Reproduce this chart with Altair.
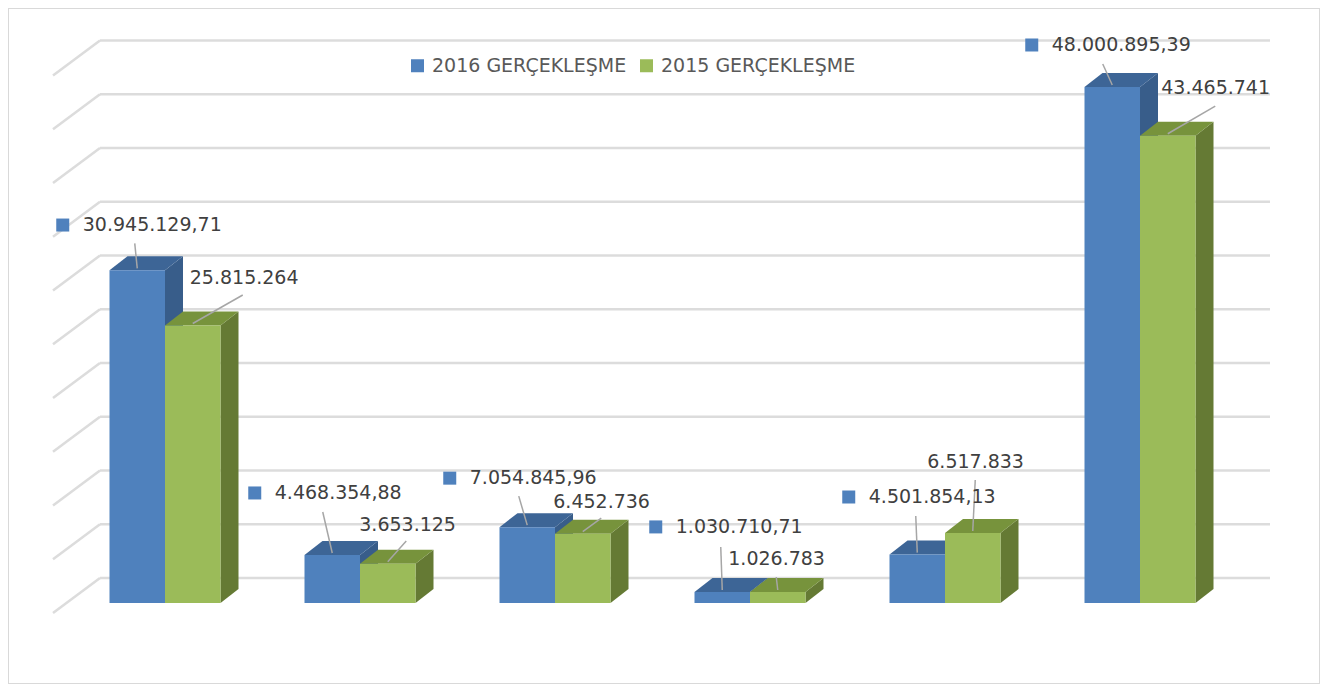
import altair as alt
import pandas as pd

# ---------------- data ----------------
CATEGORIES = ["Kalem 1", "Kalem 2", "Kalem 3", "Kalem 4", "Kalem 5", "Kalem 6"]
SERIES = ["2016 GERÇEKLEŞME", "2015 GERÇEKLEŞME"]
VALUES_2016 = [30945129.71, 4468354.88, 7054845.96, 1030710.71, 4501854.13, 48000895.39]
VALUES_2015 = [25815264, 3653125, 6452736, 1026783, 6517833, 43465741]
GRID_TICKS = [0, 5e6, 10e6, 15e6, 20e6, 25e6, 30e6, 35e6, 40e6, 45e6, 50e6]

# ---------------- layout / style ----------------
BLUE, BLUE_TOP, BLUE_SIDE = "#4F81BD", "#3D6596", "#385D8A"
GREEN, GREEN_TOP, GREEN_SIDE = "#9BBB59", "#77933C", "#657A34"
GRID = "#DCDCDC"
FONT = "DejaVu Sans"

STEP_PX = 195.0                 # pixels between group centres
PX_Y = 537.5 / 50e6             # pixels per value unit
HALF_W = 55.5 / STEP_PX         # bar width in group units
DEPTH_X = 18 / STEP_PX
DEPTH_Y = 14 / PX_Y
WALL_Y = 25 / PX_Y
WALL_X0 = -65 / STEP_PX
WALL_X1 = 1105 / STEP_PX
WALL_DX = -47 / STEP_PX
WALL_DY = -35 / PX_Y

# label offsets in pixels from the bar's front-top centre (Excel labels moved by hand)
LBL_DX = {SERIES[0]: [-54.5, -57.5, -57.5, -46.5, -48.5, -60.5],
          SERIES[1]: [-3, -28.5, -29.5, -49.5, -45.5, -6.5]}
LBL_DY = {SERIES[0]: [-45.3, -62, -49, -65, -57.6, -42],
          SERIES[1]: [-47.5, -38.7, -31.6, -33, -70.9, -47.7]}
LDR_DX = {SERIES[0]: [-2.5, -9.5, -8.5, -1.5, -1.5, -9.5],
          SERIES[1]: [50, 18.5, 18.5, -1.5, 2.5, 47.5]}
LDR_DY = {SERIES[0]: [-27, -43, -31, -45, -38.6, -23],
          SERIES[1]: [-30.5, -22.7, -15.6, -15, -52.9, -29.7]}


def tr_format(v, decimals):
    s = f"{v:,.{decimals}f}"
    return s.replace(",", "X").replace(".", ",").replace("X", ".")


front, tops, sides, labels, leaders = [], [], [], [], []
for s_idx, (series, vals) in enumerate(zip(SERIES, [VALUES_2016, VALUES_2015])):
    for i, (cat, v) in enumerate(zip(CATEGORIES, vals)):
        x0 = i - HALF_W if s_idx == 0 else i
        x1 = x0 + HALF_W
        bid = f"{series}-{i}"
        front.append({"series": series, "category": cat, "x0": x0, "x1": x1, "v": v, "base": 0})
        tops.append({"id": bid, "series": series, "y": v, "x": x0, "x2": x1})
        tops.append({"id": bid, "series": series, "y": v + DEPTH_Y, "x": x0 + DEPTH_X, "x2": x1 + DEPTH_X})
        sides.append({"id": bid, "series": series, "x": x1, "y": v, "y2": 0})
        sides.append({"id": bid, "series": series, "x": x1 + DEPTH_X, "y": v + DEPTH_Y, "y2": DEPTH_Y})
        cx = (x0 + x1) / 2
        labels.append({"series": series,
                       "lx": cx + LBL_DX[series][i] / STEP_PX,
                       "ly": v - LBL_DY[series][i] / PX_Y,
                       "label": tr_format(v, 2 if s_idx == 0 else 0)})
        leaders.append({"series": series,
                        "sx": cx + LDR_DX[series][i] / STEP_PX,
                        "sy": v - LDR_DY[series][i] / PX_Y,
                        "ex": cx, "ey": v + 2 / PX_Y})

front_df = pd.DataFrame(front)
tops_df = pd.DataFrame(tops)
sides_df = pd.DataFrame(sides)
labels_df = pd.DataFrame(labels)
leaders_df = pd.DataFrame(leaders)
grid_df = pd.DataFrame({"gy": [t + WALL_Y for t in GRID_TICKS]})
grid_df["gx0"] = WALL_X0
grid_df["gx1"] = WALL_X1
grid_df["dx2"] = WALL_X0 + WALL_DX
grid_df["dy2"] = grid_df["gy"] + WALL_DY

xs = alt.Scale(domain=[0, 5], range=[157, 1132], nice=False, zero=False)
ys = alt.Scale(domain=[0, 50e6], range=[595, 57.5], nice=False, zero=False)

grid_h = alt.Chart(grid_df).mark_rule(color=GRID, strokeWidth=2.5).encode(
    x=alt.X("gx0:Q", scale=xs, axis=None), x2="gx1:Q",
    y=alt.Y("gy:Q", scale=ys, axis=None))
grid_d = alt.Chart(grid_df).mark_rule(color=GRID, strokeWidth=2.5).encode(
    x=alt.X("gx0:Q", scale=xs, axis=None), x2="dx2:Q",
    y=alt.Y("gy:Q", scale=ys, axis=None), y2="dy2:Q")


def side_layer(series, color):
    return alt.Chart(sides_df).transform_filter(alt.datum.series == series).mark_area(
        orient="vertical", color=color).encode(
        x=alt.X("x:Q", scale=xs, axis=None),
        y=alt.Y("y:Q", scale=ys, axis=None), y2="y2:Q", detail="id:N")


def top_layer(series, color):
    return alt.Chart(tops_df).transform_filter(alt.datum.series == series).mark_area(
        orient="horizontal", color=color).encode(
        y=alt.Y("y:Q", scale=ys, axis=None),
        x=alt.X("x:Q", scale=xs, axis=None), x2="x2:Q", detail="id:N")


fronts = alt.Chart(front_df).mark_rect().encode(
    x=alt.X("x0:Q", scale=xs, axis=None), x2="x1:Q",
    y=alt.Y("v:Q", scale=ys, axis=None), y2="base:Q",
    color=alt.Color("series:N",
                    scale=alt.Scale(domain=SERIES, range=[BLUE, GREEN]),
                    legend=alt.Legend(orient="none", legendX=400, legendY=48,
                                      direction="horizontal", title=None,
                                      symbolType="square", symbolSize=169,
                                      symbolStrokeWidth=0, labelLimit=400,
                                      labelFont=FONT, labelFontSize=19,
                                      labelColor="#595959", columnPadding=10,
                                      labelOffset=5, padding=0)))

leader_layer = alt.Chart(leaders_df).mark_rule(color="#A6A6A6", strokeWidth=1.5).encode(
    x=alt.X("sx:Q", scale=xs, axis=None), x2="ex:Q",
    y=alt.Y("sy:Q", scale=ys, axis=None), y2="ey:Q")

text_layer = alt.Chart(labels_df).mark_text(
    align="left", baseline="middle", font=FONT, fontSize=19, color="#404040").encode(
    x=alt.X("lx:Q", scale=xs, axis=None),
    y=alt.Y("ly:Q", scale=ys, axis=None), text="label:N")

key_layer = alt.Chart(labels_df).transform_filter(alt.datum.series == SERIES[0]).mark_square(
    size=169, color=BLUE, opacity=1, filled=True, xOffset=-20).encode(
    x=alt.X("lx:Q", scale=xs, axis=None),
    y=alt.Y("ly:Q", scale=ys, axis=None))

chart = alt.layer(
    grid_h, grid_d,
    side_layer(SERIES[0], BLUE_SIDE), side_layer(SERIES[1], GREEN_SIDE),
    top_layer(SERIES[0], BLUE_TOP), top_layer(SERIES[1], GREEN_TOP),
    fronts, leader_layer, text_layer, key_layer,
).properties(
    width=1312, height=676, padding=0,
    autosize=alt.AutoSizeParams(type="none"),
).configure_view(stroke="#D9D9D9", strokeWidth=2)

chart.save("out.html", embed_options={"renderer": "svg", "actions": False})
